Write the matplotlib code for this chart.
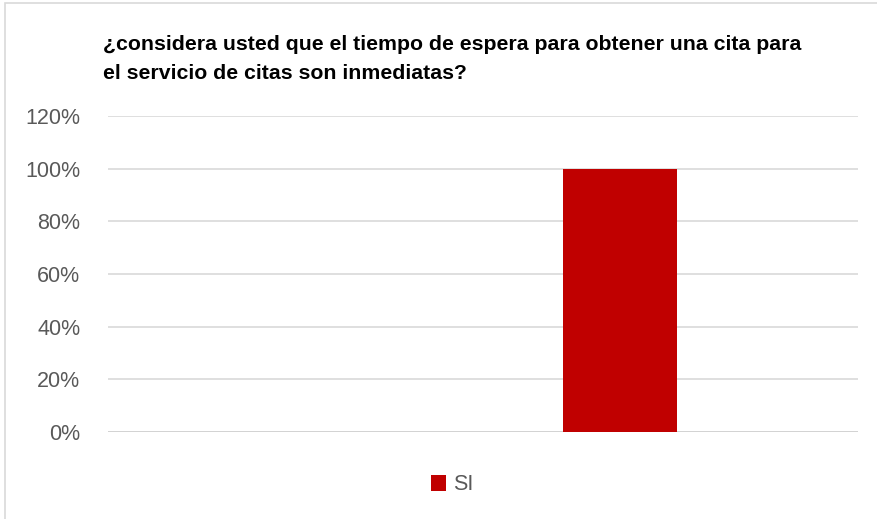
import matplotlib
matplotlib.use("Agg")
import matplotlib.pyplot as plt
from matplotlib.patches import Rectangle
from matplotlib.ticker import PercentFormatter

plt.rcParams["font.family"] = ["Liberation Sans Narrow", "Liberation Sans", "DejaVu Sans"]

# datos de la encuesta
respuestas = ["SI"]
porcentajes = [1.00]
y_ticks = [0, 0.2, 0.4, 0.6, 0.8, 1.0, 1.2]

titulo = ("\u00bfconsidera usted que el tiempo de espera para obtener una cita para\n"
          "el servicio de citas son inmediatas?")

fig = plt.figure(figsize=(8.77, 5.19), dpi=100)
ax = fig.add_axes([108 / 877, 1 - 432 / 519, 750 / 877, 316 / 519])

# borde del área del gráfico
fig.patches.append(Rectangle((5 / 877, -0.02), 1.02, 1 - 3 / 519 + 0.02,
                             transform=fig.transFigure, fill=False,
                             edgecolor="#d9d9d9", linewidth=1.2))

ax.bar([0.683], porcentajes, width=0.152, color="#c00000", label=respuestas[0], zorder=3)

ax.set_xlim(0, 1)
ax.set_ylim(0, 1.2)
ax.set_yticks(y_ticks)
ax.yaxis.set_major_formatter(PercentFormatter(1.0, decimals=0))
ax.set_xticks([])
ax.grid(axis="y", color="#d9d9d9", linewidth=1.2, zorder=0)
ax.axhline(0, color="#d0d0d0", linewidth=1.8, zorder=2)
for s in ax.spines.values():
    s.set_visible(False)
ax.tick_params(axis="y", length=0, pad=20, labelsize=15.5, labelcolor="#595959")

fig.text(103 / 877, 1 - 35 / 519, titulo, fontsize=15.3, fontweight="bold",
         color="#000000", ha="left", va="top", linespacing=1.65)

ax.legend(loc="center", bbox_to_anchor=(452 / 877, 1 - 485 / 519),
          bbox_transform=fig.transFigure, frameon=False, fontsize=15.5,
          handlelength=0.7, handleheight=0.7, handletextpad=0.3, labelcolor="#595959")

fig.savefig("out.png", dpi=100)
